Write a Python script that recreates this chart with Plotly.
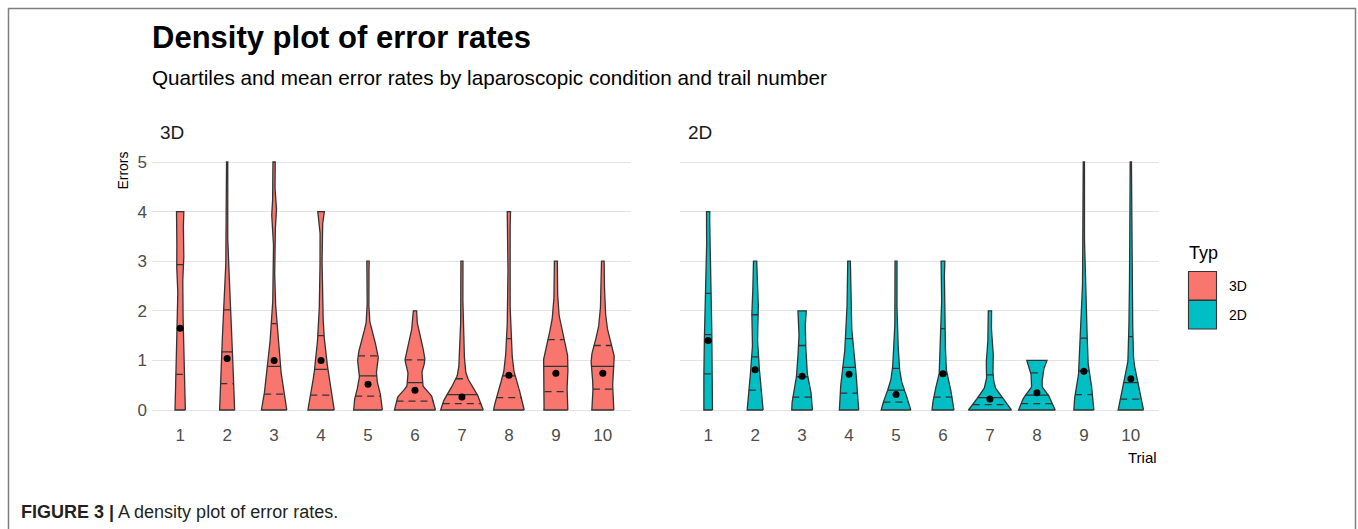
import numpy as np
import plotly.graph_objects as go

W, H = 1358, 529

# ---------------- data ----------------
TRIALS = list(range(1, 11))
TRIAL_LABELS = [str(t) for t in TRIALS]
PANELS = ["3D", "2D"]
COLORS = {"3D": "#F8766D", "2D": "#00BFC4"}
Y_STEP = 0.25  # violin half-widths are given at y = 0, 0.25, 0.5, ...

# violin half-widths (in trial units) at y = 0, 0.25, 0.5, ... up to each violin's max
DENS_3D = [
    [0.11, 0.105, 0.098, 0.092, 0.085, 0.078, 0.07, 0.065, 0.058, 0.052, 0.05, 0.065, 0.08, 0.072, 0.064, 0.07, 0.078],
    [0.16, 0.153, 0.146, 0.135, 0.12, 0.11, 0.1, 0.09, 0.082, 0.07, 0.055, 0.04, 0.026, 0.018, 0.012, 0.01, 0.01, 0.01, 0.01, 0.01, 0.01],
    [0.27, 0.225, 0.18, 0.15, 0.128, 0.1, 0.075, 0.055, 0.04, 0.026, 0.015, 0.01, 0.008, 0.008, 0.012, 0.035, 0.053, 0.03, 0.02, 0.022, 0.024],
    [0.28, 0.24, 0.19, 0.145, 0.124, 0.095, 0.064, 0.048, 0.04, 0.032, 0.026, 0.022, 0.022, 0.02, 0.02, 0.035, 0.07],
    [0.305, 0.28, 0.21, 0.18, 0.22, 0.18, 0.11, 0.043, 0.022, 0.016, 0.014, 0.018, 0.025],
    [0.436, 0.37, 0.17, 0.15, 0.21, 0.17, 0.1, 0.05, 0.035],
    [0.454, 0.36, 0.2, 0.085, 0.057, 0.045, 0.035, 0.028, 0.022, 0.02, 0.02, 0.02, 0.022],
    [0.326, 0.27, 0.19, 0.115, 0.078, 0.062, 0.055, 0.035, 0.028, 0.025, 0.022, 0.02, 0.02, 0.02, 0.022, 0.028, 0.035],
    [0.255, 0.24, 0.24, 0.255, 0.26, 0.215, 0.15, 0.092, 0.06, 0.042, 0.034, 0.03, 0.032],
    [0.234, 0.215, 0.21, 0.235, 0.248, 0.205, 0.13, 0.08, 0.055, 0.043, 0.035, 0.03, 0.028],
]
DENS_2D = [
    [0.092, 0.092, 0.092, 0.092, 0.09, 0.087, 0.079, 0.074, 0.07, 0.066, 0.052, 0.044, 0.04, 0.035, 0.028, 0.03, 0.035],
    [0.17, 0.15, 0.125, 0.097, 0.075, 0.06, 0.05, 0.062, 0.071, 0.06, 0.042, 0.035, 0.035],
    [0.22, 0.207, 0.155, 0.11, 0.092, 0.08, 0.066, 0.07, 0.089],
    [0.206, 0.19, 0.177, 0.148, 0.12, 0.085, 0.062, 0.055, 0.048, 0.035, 0.028, 0.028, 0.028],
    [0.316, 0.24, 0.14, 0.085, 0.062, 0.048, 0.035, 0.025, 0.021, 0.02, 0.02, 0.02, 0.021],
    [0.234, 0.2, 0.14, 0.08, 0.06, 0.052, 0.045, 0.04, 0.033, 0.028, 0.025, 0.032, 0.04],
    [0.457, 0.26, 0.1, 0.065, 0.078, 0.058, 0.035, 0.032, 0.035],
    [0.39, 0.28, 0.11, 0.13, 0.215],
    [0.213, 0.195, 0.16, 0.11, 0.088, 0.078, 0.07, 0.06, 0.055, 0.043, 0.03, 0.022, 0.018, 0.015, 0.012, 0.01, 0.01, 0.01, 0.01, 0.01, 0.01],
    [0.27, 0.22, 0.17, 0.11, 0.062, 0.05, 0.043, 0.04, 0.039, 0.035, 0.03, 0.022, 0.018, 0.015, 0.012, 0.01, 0.01, 0.01, 0.01, 0.01, 0.01],
]

Q1_3D = [0.72, 0.53, 0.32, 0.30, 0.28, 0.18, 0.13, 0.25, 0.37, 0.42]
MED_3D = [1.62, 1.17, 0.88, 0.82, 0.69, 0.55, 0.31, 0.69, 0.88, 0.88]
Q3_3D = [2.93, 2.02, 1.74, 1.50, 1.09, 1.01, 0.63, 1.44, 1.42, 1.30]
MEAN_3D = [1.65, 1.04, 1.00, 1.00, 0.52, 0.40, 0.26, 0.70, 0.74, 0.74]

Q1_2D = [0.73, 0.40, 0.26, 0.34, 0.16, 0.26, 0.11, 0.13, 0.31, 0.22]
MED_2D = [1.52, 1.07, 0.67, 0.86, 0.40, 0.72, 0.25, 0.30, 0.79, 0.55]
Q3_2D = [2.35, 1.92, 1.30, 1.44, 0.84, 1.64, 0.71, 0.75, 1.45, 1.48]
MEAN_2D = [1.40, 0.81, 0.68, 0.72, 0.31, 0.73, 0.22, 0.35, 0.78, 0.63]

DATA = {
    "3D": (DENS_3D, Q1_3D, MED_3D, Q3_3D, MEAN_3D),
    "2D": (DENS_2D, Q1_2D, MED_2D, Q3_2D, MEAN_2D),
}

# ---------------- helpers ----------------
def pchip(xk, yk, xq):
    xk = np.asarray(xk, float); yk = np.asarray(yk, float); xq = np.asarray(xq, float)
    n = len(xk)
    h = np.diff(xk); d = np.diff(yk) / h
    m = np.zeros(n)
    m[0], m[-1] = d[0], d[-1]
    for i in range(1, n - 1):
        if d[i - 1] * d[i] <= 0:
            m[i] = 0.0
        else:
            w1 = 2 * h[i] + h[i - 1]; w2 = h[i] + 2 * h[i - 1]
            m[i] = (w1 + w2) / (w1 / d[i - 1] + w2 / d[i])
    idx = np.clip(np.searchsorted(xk, xq, side="right") - 1, 0, n - 2)
    t = (xq - xk[idx]) / h[idx]
    h00 = 2 * t**3 - 3 * t**2 + 1
    h10 = t**3 - 2 * t**2 + t
    h01 = -2 * t**3 + 3 * t**2
    h11 = t**3 - t**2
    return h00 * yk[idx] + h10 * h[idx] * m[idx] + h01 * yk[idx + 1] + h11 * h[idx] * m[idx + 1]


def px(x):
    return x / W


def py(y):
    return 1 - y / H


OUT = "#333333"
LW = 1.3
fig = go.Figure()

for p, panel in enumerate(PANELS):
    xa = "x" if p == 0 else "x2"
    ya = "y" if p == 0 else "y2"
    dens, q1s, meds, q3s, means = DATA[panel]
    dash_x, dash_y, sol_x, sol_y = [], [], [], []
    for i, t in enumerate(TRIALS):
        wk = dens[i]
        yk = np.arange(len(wk)) * Y_STEP
        ymax = yk[-1]
        yd = np.linspace(0, ymax, int(ymax * 40) + 1)
        wd = np.maximum(pchip(yk, wk, yd), 0.013)
        xs = np.concatenate([t + wd, (t - wd)[::-1], [t + wd[0]]])
        ys = np.concatenate([yd, yd[::-1], [yd[0]]])
        fig.add_trace(go.Scatter(
            x=xs, y=ys, mode="lines", fill="toself", fillcolor=COLORS[panel],
            line=dict(color=OUT, width=LW), hoverinfo="skip", showlegend=False,
            xaxis=xa, yaxis=ya))
        for q, solid in ((q1s[i], False), (meds[i], True), (q3s[i], False)):
            hw = float(pchip(yk, wk, [q])[0])
            if solid:
                sol_x += [t - hw, t + hw, None]; sol_y += [q, q, None]
            else:
                dash_x += [t - hw, t + hw, None]; dash_y += [q, q, None]
    fig.add_trace(go.Scatter(x=dash_x, y=dash_y, mode="lines",
                             line=dict(color=OUT, width=LW, dash="7px,5px"),
                             hoverinfo="skip", showlegend=False, xaxis=xa, yaxis=ya))
    fig.add_trace(go.Scatter(x=sol_x, y=sol_y, mode="lines",
                             line=dict(color=OUT, width=LW),
                             hoverinfo="skip", showlegend=False, xaxis=xa, yaxis=ya))
    fig.add_trace(go.Scatter(x=TRIALS, y=means, mode="markers",
                             marker=dict(color="black", size=7),
                             hoverinfo="skip", showlegend=False, xaxis=xa, yaxis=ya))

FONT = "Liberation Sans, Arial, sans-serif"
ydom = [py(422.4), py(149.6)]
xcommon = dict(range=[0.4, 10.6], tickmode="array", tickvals=TRIALS, ticktext=TRIAL_LABELS,
               showgrid=False, zeroline=False, showline=False, ticks="",
               tickfont=dict(family=FONT, size=17, color="#4D4D4D"), ticklabelstandoff=1,
               fixedrange=True)
ycommon = dict(range=[-0.25, 5.25], tickmode="array", tickvals=[0, 1, 2, 3, 4, 5],
               showgrid=True, gridcolor="#E3E3E3", gridwidth=1, zeroline=False,
               showline=False, ticks="", domain=ydom,
               tickfont=dict(family=FONT, size=17, color="#4D4D4D"), ticklabelstandoff=4,
               fixedrange=True)

fig.update_layout(
    width=W, height=H, autosize=False,
    margin=dict(l=0, r=0, t=0, b=0),
    paper_bgcolor="white", plot_bgcolor="white",
    font=dict(family=FONT, color="#1A1A1A"),
    xaxis=dict(domain=[px(152), px(631)], anchor="y", **xcommon),
    xaxis2=dict(domain=[px(680), px(1159)], anchor="y2", **xcommon),
    yaxis=dict(anchor="x", **ycommon),
    yaxis2=dict(anchor="x2", matches="y", showticklabels=False, **ycommon),
)

ann = []
def text(x, y, s, size, xanchor="left", yanchor="middle", color="#000000", angle=0, family=FONT):
    ann.append(dict(x=px(x), y=py(y), xref="paper", yref="paper", text=s, showarrow=False,
                    xanchor=xanchor, yanchor=yanchor, textangle=angle,
                    font=dict(family=family, size=size, color=color)))

text(150, 37, "<b>Density plot of error rates</b>", 31)
text(150, 77, "Quartiles and mean error rates by laparoscopic condition and trail number", 20.7)
text(158, 133, "3D", 19, color="#1A1A1A")
text(686, 133, "2D", 19, color="#1A1A1A")
text(123, 149.6, "Errors", 14, xanchor="center", yanchor="top", angle=-90)
text(1159, 457, "Trial", 15, xanchor="right")
text(1187, 253, "Typ", 18)
text(1227, 286, "3D", 14)
text(1227, 315, "2D", 14)
text(19, 512, "<b>FIGURE 3 |</b> A density plot of error rates.", 18, color="#231F20")
fig.update_layout(annotations=ann)

shapes = [
    dict(type="rect", xref="paper", yref="paper", x0=px(8.5), x1=px(1355.5), y0=-0.2, y1=py(8.5),
         line=dict(color="#7F7F7F", width=1.5), fillcolor="rgba(0,0,0,0)", layer="above"),
    dict(type="rect", xref="paper", yref="paper", x0=px(1188.5), x1=px(1216.5), y0=py(300), y1=py(271.5),
         line=dict(color=OUT, width=1.1), fillcolor=COLORS["3D"]),
    dict(type="rect", xref="paper", yref="paper", x0=px(1188.5), x1=px(1216.5), y0=py(329), y1=py(300.5),
         line=dict(color=OUT, width=1.1), fillcolor=COLORS["2D"]),
]
fig.update_layout(shapes=shapes)

fig.write_html("out.html", config={"displayModeBar": False},
               post_script="document.body.style.margin='0px';document.body.style.overflow='hidden';")
